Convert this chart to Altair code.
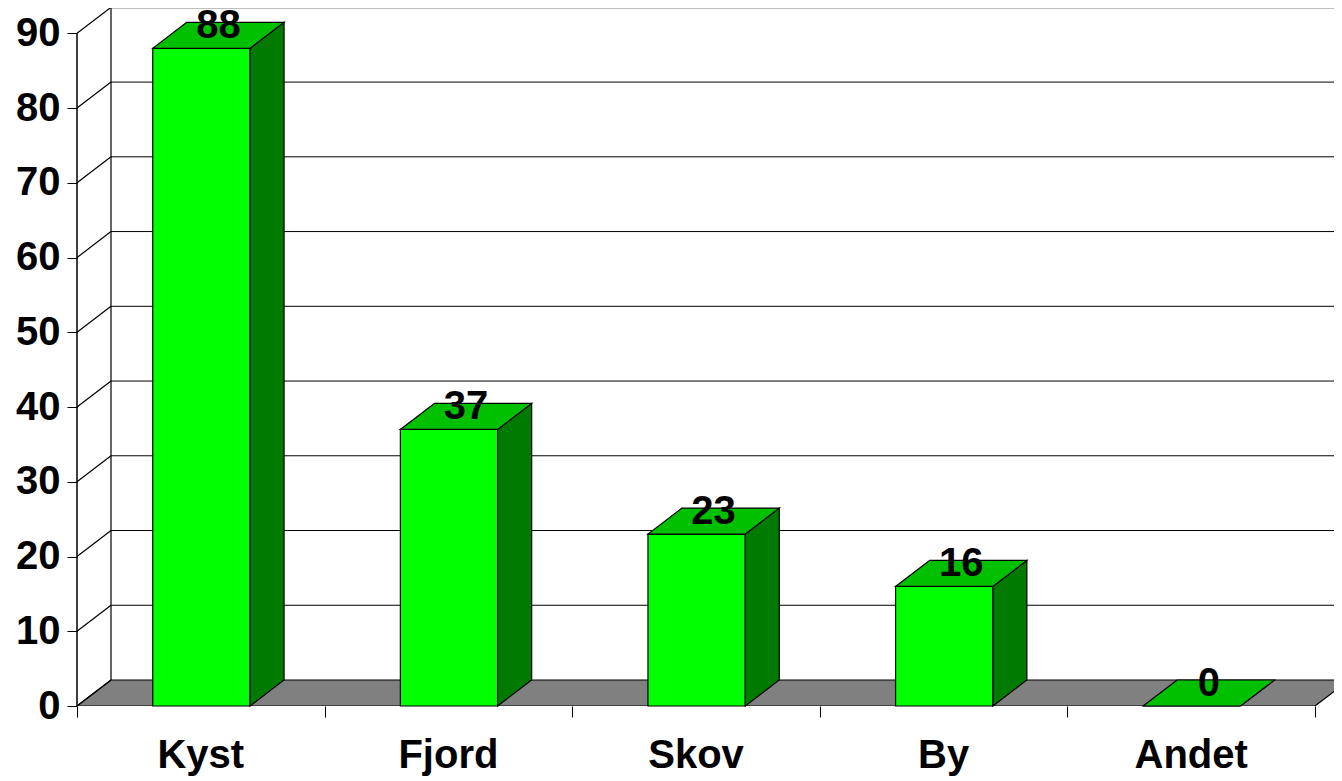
import altair as alt
import pandas as pd

categories = ["Kyst", "Fjord", "Skov", "By", "Andet"]
values = [88, 37, 23, 16, 0]
y_ticks = [0, 10, 20, 30, 40, 50, 60, 70, 80, 90]

# layout constants (pixels)
SLOT_PX = 247.6
UNIT_PX = 7.474
DEPTH_X_PX = 34
DEPTH_Y_PX = 26
PLOT_W = 1257
PLOT_H = 698

DX = DEPTH_X_PX / SLOT_PX
DY = DEPTH_Y_PX / UNIT_PX
X_MAX = PLOT_W / SLOT_PX
Y_MAX = PLOT_H / UNIT_PX
BAR_L, BAR_R = 0.306, 0.699
N = len(categories)
Y_TOP = max(y_ticks)
FONT = "Liberation Sans"

xs = alt.Scale(domain=[0, X_MAX], nice=False, zero=False)
ys = alt.Scale(domain=[0, Y_MAX], nice=False, zero=False)
X = alt.X("x:Q", scale=xs, stack=None,
          axis=alt.Axis(values=list(range(N + 1)), labels=False, domain=False, grid=False,
                        tickSize=11, tickColor="black", tickWidth=1, title=None))
Y = alt.Y("y:Q", scale=ys, stack=None,
          axis=alt.Axis(values=y_ticks, domain=False, grid=False, tickSize=10,
                        tickColor="black", tickWidth=1, labelFont=FONT, labelFontSize=40,
                        labelFontWeight="bold", labelColor="black", labelPadding=7, title=None))

# floor
floor_df = pd.DataFrame({"y": [0, DY], "x": [0, DX], "x2": [N, N + DX]})
floor = alt.Chart(floor_df).mark_area(orient="horizontal", fill="#808080", stroke="black",
                                      strokeWidth=1.2, clip=True).encode(
    y=Y, x=X, x2="x2:Q")

# back wall gridlines
grid_df = pd.DataFrame({"x": [DX] * (len(y_ticks) - 1), "x2": [X_MAX] * (len(y_ticks) - 1),
                        "y": [v + DY for v in y_ticks[1:]],
                        "w": [2 if v == Y_TOP else 1 for v in y_ticks[1:]]})
grid = alt.Chart(grid_df).mark_rule(color="black", clip=True).encode(
    x=X, x2="x2:Q", y=Y, strokeWidth=alt.StrokeWidth("w:Q", scale=None))

# back wall left edge
wall_df = pd.DataFrame({"x": [DX], "y": [DY], "y2": [Y_TOP + DY]})
wall = alt.Chart(wall_df).mark_rule(color="black", strokeWidth=1.2).encode(x=X, y=Y, y2="y2:Q")

# left wall diagonals
diag_df = pd.DataFrame({"x": [0] * len(y_ticks), "x2": [DX] * len(y_ticks),
                        "y": y_ticks, "y2": [v + DY for v in y_ticks]})
diag = alt.Chart(diag_df).mark_rule(color="black", strokeWidth=1.2).encode(
    x=X, x2="x2:Q", y=Y, y2="y2:Q")

# front y axis line
axis_df = pd.DataFrame({"x": [0], "y": [0], "y2": [Y_TOP]})
axis_line = alt.Chart(axis_df).mark_rule(color="black", strokeWidth=1.5).encode(x=X, y=Y, y2="y2:Q")

# bars
front_rows, side_rows, top_rows, lab_rows, cat_rows = [], [], [], [], []
for i, (c, v) in enumerate(zip(categories, values)):
    front_rows.append({"cat": c, "x": i + BAR_L, "x2": i + BAR_R, "y": 0, "y2": v})
    side_rows.append({"cat": c, "x": i + BAR_R, "y": 0, "y2": v})
    side_rows.append({"cat": c, "x": i + BAR_R + DX, "y": DY, "y2": v + DY})
    top_rows.append({"cat": c, "y": v, "x": i + BAR_L, "x2": i + BAR_R})
    top_rows.append({"cat": c, "y": v + DY, "x": i + BAR_L + DX, "x2": i + BAR_R + DX})
    lab_rows.append({"cat": c, "x": i + (BAR_L + BAR_R) / 2 + DX / 2, "y": v + DY / 2, "t": str(v)})
    cat_rows.append({"cat": c, "x": i + 0.5, "y": 0})

front = alt.Chart(pd.DataFrame(front_rows)).mark_rect(fill="#00FF00", stroke="black", strokeWidth=1.2).encode(
    x=X, x2="x2:Q", y=Y, y2="y2:Q")
side = alt.Chart(pd.DataFrame(side_rows)).mark_area(fill="#007A00", stroke="black", strokeWidth=1.2).encode(
    x=X, y=Y, y2="y2:Q", detail="cat:N")
top = alt.Chart(pd.DataFrame(top_rows)).mark_area(orient="horizontal", fill="#00C000", stroke="black",
                                                  strokeWidth=1.2).encode(
    y=Y, x=X, x2="x2:Q", detail="cat:N")

val_labels = alt.Chart(pd.DataFrame(lab_rows)).mark_text(
    font=FONT, fontSize=40, fontWeight="bold", color="black", align="center",
    baseline="alphabetic", dy=3).encode(x=X, y=Y, text="t:N")

cat_labels = alt.Chart(pd.DataFrame(cat_rows)).mark_text(
    font=FONT, fontSize=40, fontWeight="bold", color="black", align="center",
    baseline="alphabetic", dy=62).encode(x=X, y=Y, text="cat:N")

chart = alt.layer(floor, grid, wall, diag, axis_line, front, side, top, val_labels, cat_labels).properties(
    width=PLOT_W, height=PLOT_H, autosize="none",
    padding={"left": 69, "top": 0, "right": 0, "bottom": 75}
).configure_view(stroke=None)

chart.save("out.html", embed_options={"renderer": "svg", "actions": False})
